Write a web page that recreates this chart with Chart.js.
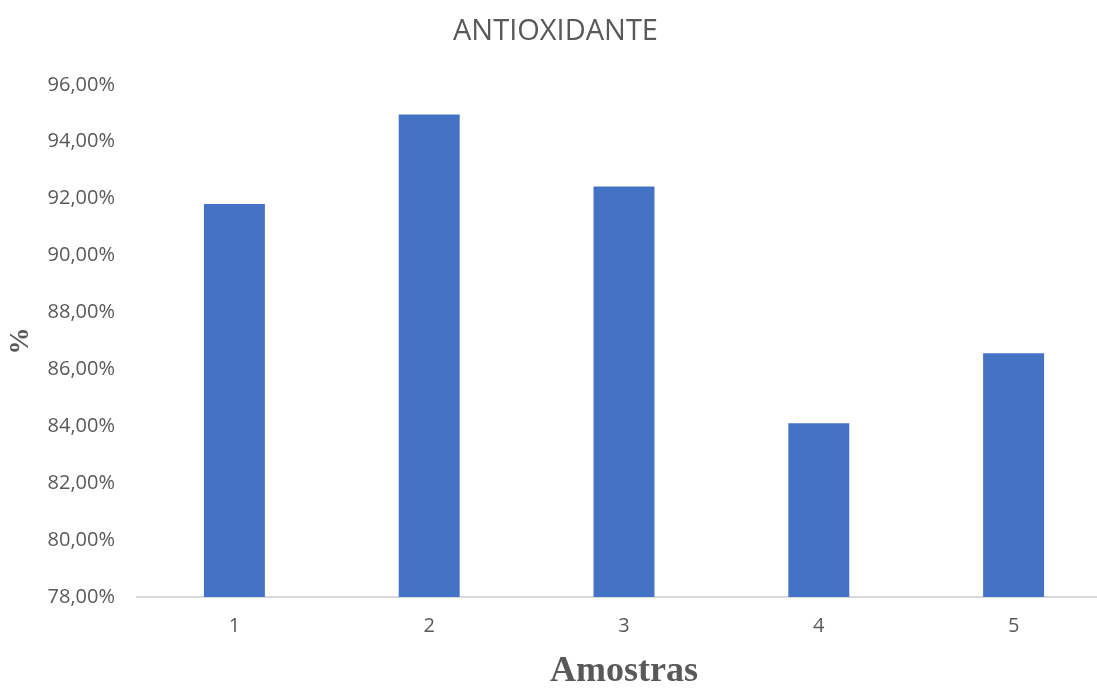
<!DOCTYPE html>
<html>
<head>
<meta charset="utf-8">
<script src="https://cdn.jsdelivr.net/npm/chart.js@4/dist/chart.umd.min.js"></script>
<style>
  html, body { margin: 0; padding: 0; background: #fff; overflow: hidden; }
  #wrap { width: 1111px; height: 688px; }
</style>
</head>
<body>
<div id="wrap"><canvas id="chart" width="1111" height="688"></canvas></div>
<script>
const amostras = ['1', '2', '3', '4', '5'];
const antioxidante = [91.81, 94.96, 92.43, 84.11, 86.57];
const yMin = 78;
const yMax = 96;
const yStep = 2;

const textColor = '#595959';

new Chart(document.getElementById('chart'), {
    type: 'bar',
    data: {
        labels: amostras,
        datasets: [
            {
                label: 'ANTIOXIDANTE',
                data: antioxidante,
                backgroundColor: '#4472C4',
                barPercentage: 1,
                categoryPercentage: 0.313
            }
        ]
    },
    options: {
        responsive: false,
        animation: false,
        layout: { padding: { left: 0, right: 0, top: 0, bottom: 0 } },
        plugins: {
            legend: { display: false },
            tooltip: { enabled: false },
            title: {
                display: true,
                text: 'ANTIOXIDANTE',
                color: textColor,
                font: { family: 'Open Sans', size: 29, weight: 'normal' },
                padding: { top: 14, bottom: 36 }
            }
        },
        scales: {
            x: {
                grid: { display: false, drawTicks: false },
                border: { display: true, color: '#d9d9d9', width: 2 },
                ticks: {
                    color: textColor,
                    font: { family: 'Open Sans', size: 20 },
                    padding: 17
                },
                title: {
                    display: true,
                    text: 'Amostras',
                    color: textColor,
                    font: { family: 'Liberation Serif', size: 36, weight: 'bold', lineHeight: 0.9 },
                    padding: { top: 0, bottom: 0 }
                },
                afterFit: (scale) => { scale.height = 91; }
            },
            y: {
                min: yMin,
                max: yMax,
                grid: { display: false, drawTicks: false },
                border: { display: false },
                ticks: {
                    stepSize: yStep,
                    color: textColor,
                    font: { family: 'Open Sans', size: 20 },
                    padding: 22,
                    callback: (v) => v.toFixed(2).replace('.', ',') + '%'
                },
                title: {
                    display: true,
                    text: '%',
                    color: textColor,
                    font: { family: 'Liberation Serif', size: 27, weight: 'bold' },
                    padding: { top: 5, bottom: 0 }
                },
                afterFit: (scale) => { scale.width = 137; }
            }
        }
    }
});
</script>
</body>
</html>
